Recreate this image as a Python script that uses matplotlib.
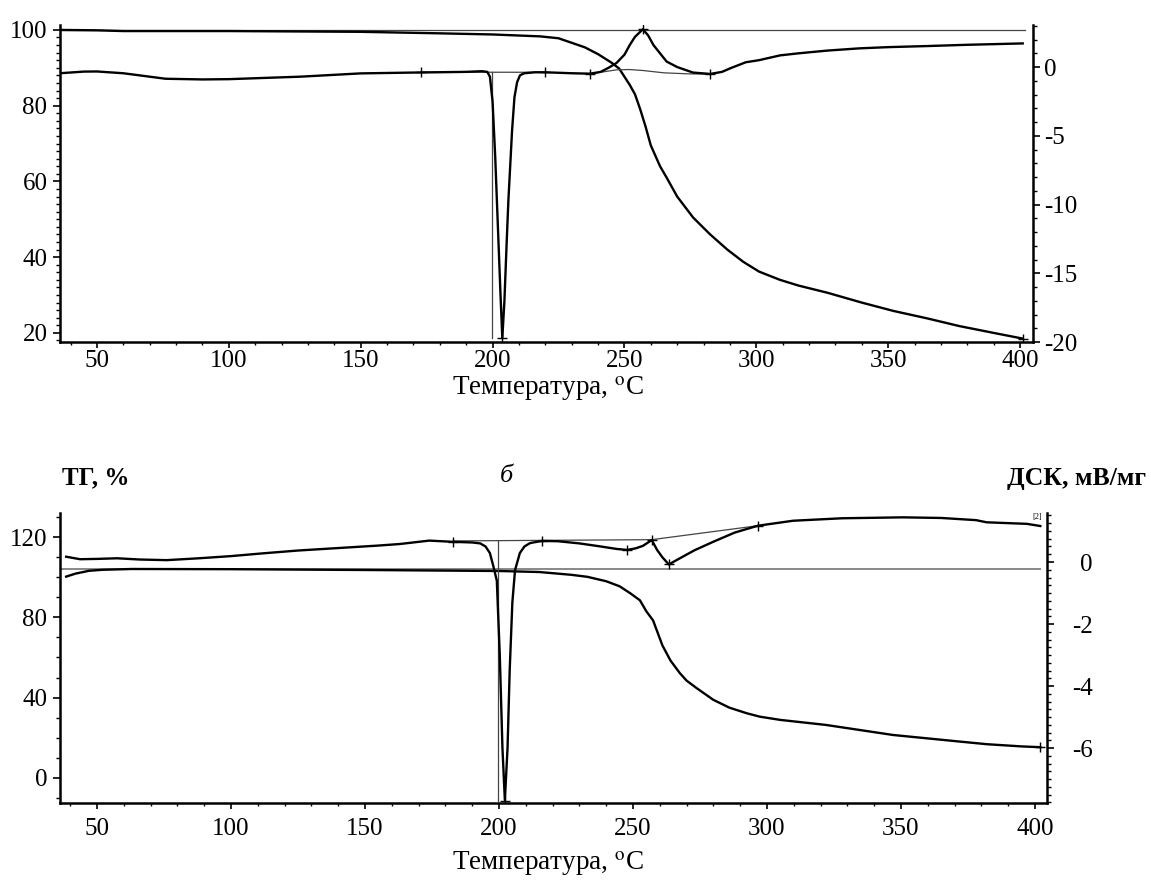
import matplotlib
matplotlib.use('Agg')
import matplotlib.pyplot as plt
from matplotlib.ticker import MultipleLocator

# === FONTS ===
plt.rcParams['font.family'] = ['Liberation Serif', 'DejaVu Serif']
plt.rcParams['mathtext.fontset'] = 'stix'
plt.rcParams['axes.unicode_minus'] = False

# === DATA: top panel (a) ===
tg1_t = [36, 50, 60, 100, 150, 180, 200, 218, 225, 230, 235, 240, 245, 248, 252, 254,
         256, 258, 260, 263.5, 266, 270, 276, 282.5, 289, 295, 301, 309, 316, 327, 340,
         352, 365, 377, 390, 401]
tg1_v = [100.0, 99.9, 99.7, 99.7, 99.5, 99.1, 98.8, 98.3, 97.8, 96.6, 95.4, 93.6, 91.4,
         89.8, 85.5, 83.0, 79.0, 74.5, 69.5, 64.0, 61.0, 56.0, 50.5, 46.0, 42.0, 38.8,
         36.2, 34.0, 32.5, 30.6, 28.0, 25.8, 23.8, 21.8, 20.0, 18.5]

dsc1_t = [36, 45, 50, 60, 76, 90, 100, 127, 150, 170, 190, 196, 198, 199, 200, 201, 202,
          203, 203.7, 204.5, 205.3, 206, 207.4, 208.3, 209.3, 210.4, 212, 216, 220, 230,
          237, 241, 244, 247, 250, 252, 254, 257, 259, 261, 263.5, 266, 270, 276, 282.5,
          287, 290, 296, 301, 309, 316, 327, 339, 350, 365, 380, 401]
dsc1_v = [-0.45, -0.33, -0.32, -0.45, -0.85, -0.9, -0.88, -0.7, -0.46, -0.4, -0.35, -0.3,
          -0.35, -0.7, -2.5, -6.5, -11.5, -16.5, -19.7, -17.0, -13.0, -9.7, -4.6, -2.2,
          -1.1, -0.6, -0.45, -0.38, -0.38, -0.45, -0.48, -0.35, -0.05, 0.3, 0.9, 1.6, 2.2,
          2.75, 2.3, 1.6, 1.0, 0.4, 0.0, -0.4, -0.5, -0.35, -0.1, 0.35, 0.5, 0.85, 1.0,
          1.2, 1.36, 1.45, 1.53, 1.62, 1.72]

# baselines / construction lines (top)
ref1_t = [36, 402]
ref1_v = [100.1, 100.1]
base1a_t = [173, 220]
base1a_v = [-0.37, -0.38]
peak1a_t = [199.8, 199.8]
peak1a_v = [-0.36, -19.7]
base1b_t = [237, 242, 247, 252, 257, 265, 275, 282.5]
base1b_v = [-0.48, -0.35, -0.2, -0.18, -0.25, -0.42, -0.5, -0.5]
mark1_t = [173, 220, 237, 257, 282.5, 203.7]
mark1_v = [-0.37, -0.38, -0.48, 2.75, -0.5, -19.7]

# === DATA: bottom panel (b) ===
tg2_t = [38.5, 42, 47, 52, 63, 100, 150, 180, 200, 215, 227, 233, 240, 245, 249, 252.6,
         255, 257.5, 261, 264, 267.5, 270, 273.8, 280, 286, 292.5, 297.4, 305, 322, 347,
         372, 382, 395, 402]
tg2_v = [100.3, 101.8, 103.2, 103.7, 104.1, 104.0, 103.6, 103.3, 103.1, 102.6, 101.2,
         100.2, 98.0, 95.5, 92.0, 88.5, 83.0, 78.5, 66.0, 58.5, 52.2, 48.5, 44.7, 38.9,
         35.0, 32.2, 30.5, 28.9, 26.4, 21.4, 18.1, 16.8, 15.7, 15.3]

dsc2_t = [38.5, 43.7, 50, 57.5, 66, 76, 88, 100, 112, 125, 140, 155, 163, 170, 174, 183,
          190, 193, 195, 196.6, 197.8, 199.2, 200.3, 201.3, 202.2, 203.2, 204, 205, 206,
          207.8, 209.5, 211.6, 216, 222, 230, 238, 244, 247.8, 251, 253.7, 256, 257, 258,
          259, 261, 263.4, 265, 267.5, 273, 279.9, 288, 296.6, 304.8, 309.7, 328, 350.7,
          365, 378, 382, 397, 402]
dsc2_v = [0.17, 0.09, 0.1, 0.12, 0.08, 0.06, 0.12, 0.19, 0.28, 0.37, 0.45, 0.53, 0.58,
          0.65, 0.69, 0.65, 0.63, 0.6, 0.5, 0.29, -0.1, -0.6, -3.0, -6.0, -7.68, -6.0,
          -3.5, -1.3, -0.26, 0.29, 0.5, 0.61, 0.68, 0.67, 0.6, 0.5, 0.42, 0.39, 0.44,
          0.52, 0.65, 0.71, 0.55, 0.39, 0.15, -0.08, 0.0, 0.12, 0.38, 0.65, 0.95, 1.17,
          1.27, 1.33, 1.41, 1.44, 1.42, 1.35, 1.28, 1.23, 1.16]

ref2_t = [36, 402]
ref2_v = [103.9, 103.9]
base2_t = [183, 257, 296.6]
base2_v = [0.68, 0.72, 1.17]
peak2_t = [199.7, 199.7]
peak2_v = [0.68, -7.7]
mark2_t = [183, 216, 247.8, 257, 263.4, 296.6, 202.2]
mark2_v = [0.65, 0.68, 0.39, 0.71, -0.08, 1.17, -7.7]

W, H = 1151, 896
fig = plt.figure(figsize=(W / 100, H / 100), dpi=100)


def px_rect(l, t, r, b):
    return [l / W, 1 - b / H, (r - l) / W, (b - t) / H]


def style(ax, axr, xlim, ylim, yrlim, ymaj, ymin, yrmaj, yrmin, xpad, rpad, rha):
    ax.set_xlim(*xlim)
    ax.set_ylim(*ylim)
    axr.set_ylim(*yrlim)
    for a in (ax, axr):
        a.spines['top'].set_visible(False)
        for s in a.spines.values():
            s.set_linewidth(1.8)
    ax.spines['right'].set_visible(False)
    axr.spines['left'].set_visible(False)
    axr.spines['bottom'].set_visible(False)
    ax.xaxis.set_major_locator(MultipleLocator(50))
    ax.xaxis.set_minor_locator(MultipleLocator(10))
    ax.yaxis.set_major_locator(MultipleLocator(ymaj))
    ax.yaxis.set_minor_locator(MultipleLocator(ymin))
    axr.yaxis.set_major_locator(MultipleLocator(yrmaj))
    axr.yaxis.set_minor_locator(MultipleLocator(yrmin))
    ax.tick_params(axis='x', which='major', direction='out', length=4, width=1.2,
                   labelsize=18, pad=xpad)
    ax.tick_params(axis='x', which='minor', direction='out', length=2.5, width=1.0)
    ax.tick_params(axis='y', which='major', direction='out', length=5, width=1.2,
                   labelsize=18, pad=4)
    ax.tick_params(axis='y', which='minor', direction='out', length=3, width=1.0)
    axr.tick_params(axis='y', which='major', direction='out', length=5, width=1.2,
                    labelsize=18, pad=rpad)
    axr.tick_params(axis='y', which='minor', direction='out', length=3, width=1.0)
    for lab in axr.get_yticklabels():
        lab.set_horizontalalignment(rha)


# === TOP PANEL ===
ax1 = fig.add_axes(px_rect(60, 25, 1033, 342))
ax1r = ax1.twinx()
style(ax1, ax1r, (36, 404.9), (17.6, 101.3), (-20.0, 3.06), 20, 2, 5, 1, 2, 3, 'left')

ax1.plot(ref1_t, ref1_v, color='#444444', lw=0.9)
ax1.plot(tg1_t, tg1_v, color='black', lw=1.7)
ax1.plot([401], [18.5], marker='+', color='black', ms=7, mew=1)
ax1r.plot(base1a_t, base1a_v, color='#444444', lw=0.9)
ax1r.plot(peak1a_t, peak1a_v, color='#444444', lw=0.9)
ax1r.plot(base1b_t, base1b_v, color='#444444', lw=0.9)
ax1r.plot(dsc1_t, dsc1_v, color='black', lw=1.7)
ax1r.plot(mark1_t, mark1_v, ls='none', marker='+', color='black', ms=7, mew=1)

fig.text(548 / W, 1 - 389 / H, 'Температура, $^{\\mathrm{o}}$C', ha='center', va='center',
         fontsize=19.5)

# === BOTTOM PANEL ===
ax2 = fig.add_axes(px_rect(60, 513, 1047, 803))
ax2r = ax2.twinx()
style(ax2, ax2r, (36.2, 404.5), (-12.5, 132), (-7.77, 1.58), 40, 10, 2, 0.25, 7, 28, 'right')

ax2.plot(ref2_t, ref2_v, color='#888888', lw=1.4)
ax2.plot(tg2_t, tg2_v, color='black', lw=1.7)
ax2.plot([402], [15.3], marker='+', color='black', ms=7, mew=1)
ax2r.plot(base2_t, base2_v, color='#444444', lw=0.9)
ax2r.plot(peak2_t, peak2_v, color='#444444', lw=0.9)
ax2r.plot(dsc2_t, dsc2_v, color='black', lw=1.7)
ax2r.plot(mark2_t, mark2_v, ls='none', marker='+', color='black', ms=7, mew=1)
ax2r.text(401, 1.45, '[2]', fontsize=6, ha='center', va='center')

fig.text(62 / W, 1 - 478 / H, 'ТГ, %', ha='left', va='center', fontsize=18,
         fontweight='bold')
fig.text(506 / W, 1 - 476 / H, 'б', ha='center', va='center', fontsize=19,
         style='italic')
fig.text(1146 / W, 1 - 478 / H, 'ДСК, мВ/мг', ha='right', va='center', fontsize=18.5,
         fontweight='bold')
fig.text(548 / W, 1 - 864 / H, 'Температура, $^{\\mathrm{o}}$C', ha='center', va='center',
         fontsize=19.5)

fig.savefig('out.png', dpi=100)
